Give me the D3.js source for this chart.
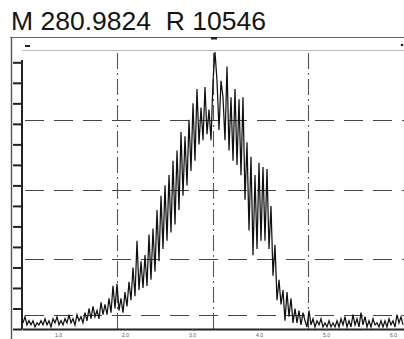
<!DOCTYPE html>
<html>
<head>
<meta charset="utf-8">
<script src="https://cdn.jsdelivr.net/npm/d3@7"></script>
<style>
  html, body { margin: 0; padding: 0; background: #fff; }
  svg { display: block; }
</style>
</head>
<body>
<div id="chart"></div>
<script>
// ---- data ----
const titleText = "M 280.9824  R 10546";
// intensity per scan (scan index = position in array)
const intensity = [
  3, 6, 2, 4, 2, 4, 1, 3, 2,
  4, 2, 5, 2, 4, 1, 5, 3, 6, 2, 4, 2,
  5, 3, 7, 3, 5, 2, 7, 4, 6, 3,
  8, 4, 10, 5, 11, 6, 9, 5, 13, 7,
  12, 7, 15, 8, 21, 10, 22, 9, 15, 8,
  18, 11, 23, 14, 30, 16, 43, 19, 33, 20,
  36, 21, 46, 24, 49, 28, 58, 33, 65, 39,
  70, 43, 75, 47, 82, 51, 87, 58, 96, 65,
  94, 70, 102, 77, 110, 82, 117, 90, 108, 92,
  118, 95, 107, 92, 121, 135, 121, 97, 121, 113,
  92, 128, 87, 113, 82, 117, 80, 112, 75, 113,
  63, 91, 48, 84, 36, 75, 39, 81, 43, 79,
  43, 78, 39, 60, 26, 41, 14, 24, 12, 19,
  4, 18, 6, 15, 3, 10, 3, 9, 2, 8,
  4, 1, 9, 2, 5, 1, 4, 2, 5, 1,
  3, 1, 4, 1, 3, 1, 4, 1, 5, 2,
  6, 1, 4, 1, 7, 2, 5, 1, 8, 2,
  6, 1, 4, 1, 5, 2, 3, 1, 4, 1,
  4, 1, 5, 2, 4, 1, 7, 3, 6, 2
];
const xTickPos = [17.5, 51, 84.5, 118, 151.5, 185];
const xTickLabels = ["1.0", "2.0", "3.0", "4.0", "5.0", "6.0"];
const xGridPos = [47, 95, 142.5];
const yTickValues = [0, 10, 20, 30, 40, 50, 60, 70, 80, 90, 100, 110, 120, 130];
const yGridValues = [7, 34, 68, 102];

// ---- layout ----
const W = 404, H = 339;
const plot = { left: 22, right: 404, top: 50, bottom: 329 };

const svg = d3.select("#chart").append("svg")
  .attr("width", W).attr("height", H);

const x = d3.scaleLinear().domain([-0.5, intensity.length - 0.5]).range([plot.left, plot.right]);
const y = d3.scaleLinear().domain([0, 136]).range([plot.bottom, plot.top]);

// title
svg.append("text")
  .attr("x", 11).attr("y", 30)
  .attr("font-family", "Liberation Sans, Arial, sans-serif")
  .attr("font-size", 26.5)
  .attr("fill", "#151515")
  .style("white-space", "pre")
  .attr("xml:space", "preserve")
  .text(titleText);

// outer frame
svg.append("line").attr("x1", 10).attr("x2", W).attr("y1", 37.5).attr("y2", 37.5)
  .attr("stroke", "#666").attr("stroke-width", 1.2);
svg.append("line").attr("x1", 11.5).attr("x2", 11.5).attr("y1", 37).attr("y2", H)
  .attr("stroke", "#555").attr("stroke-width", 1.4);
// inner top
svg.append("line").attr("x1", plot.left).attr("x2", W).attr("y1", plot.top + 0.5).attr("y2", plot.top + 0.5)
  .attr("stroke", "#bbb").attr("stroke-width", 1);

// small markers
svg.append("rect").attr("x", 25).attr("y", 45).attr("width", 5).attr("height", 2).attr("fill", "#222");
svg.append("rect").attr("x", 211).attr("y", 37).attr("width", 6).attr("height", 2.5).attr("fill", "#222");
svg.append("circle").attr("cx", 402).attr("cy", 45).attr("r", 1.3).attr("fill", "#222");

// gridlines
const grid = svg.append("g");
grid.selectAll("line.h").data(yGridValues).enter().append("line")
  .attr("x1", plot.left).attr("x2", plot.right)
  .attr("y1", d => Math.round(y(d)) + 0.5).attr("y2", d => Math.round(y(d)) + 0.5)
  .attr("stroke", "#444").attr("stroke-width", 1.1)
  .attr("stroke-dasharray", "19,10").attr("stroke-dashoffset", -3);
grid.selectAll("line.v").data(xGridPos).enter().append("line")
  .attr("x1", d => Math.round(x(d)) + 0.5).attr("x2", d => Math.round(x(d)) + 0.5)
  .attr("y1", plot.top + 3).attr("y2", plot.bottom)
  .attr("stroke", "#555").attr("stroke-width", 1.1)
  .attr("stroke-dasharray", "16,4,2,4");

// trace
const line = d3.line().x((d, i) => x(i)).y(d => y(d));
svg.append("path").datum(intensity)
  .attr("d", line)
  .attr("fill", "none").attr("stroke", "#111").attr("stroke-width", 1.25)
  .attr("stroke-linejoin", "miter");

// y axis
const yAxis = svg.append("g").attr("transform", `translate(${plot.left},0)`)
  .call(d3.axisLeft(y).tickValues(yTickValues).tickSize(9).tickSizeOuter(0).tickFormat(""));
yAxis.select(".domain").attr("stroke", "#222").attr("stroke-width", 2)
  .attr("d", `M0,${plot.top + 10}V${plot.bottom}`);
yAxis.selectAll(".tick line").attr("stroke", "#222").attr("stroke-width", 2);

// x axis
const xAxis = svg.append("g").attr("transform", `translate(0,${plot.bottom})`)
  .call(d3.axisBottom(x).tickValues(xTickPos).tickSize(2).tickSizeOuter(0)
    .tickFormat((d, i) => xTickLabels[i]));
xAxis.select(".domain").attr("stroke", "#222").attr("stroke-width", 2);
xAxis.selectAll(".tick line").attr("stroke", "#666");
xAxis.selectAll(".tick text").attr("font-size", 5).attr("fill", "#555")
  .attr("font-family", "Liberation Sans, Arial, sans-serif").attr("dy", "0.6em");
</script>
</body>
</html>
